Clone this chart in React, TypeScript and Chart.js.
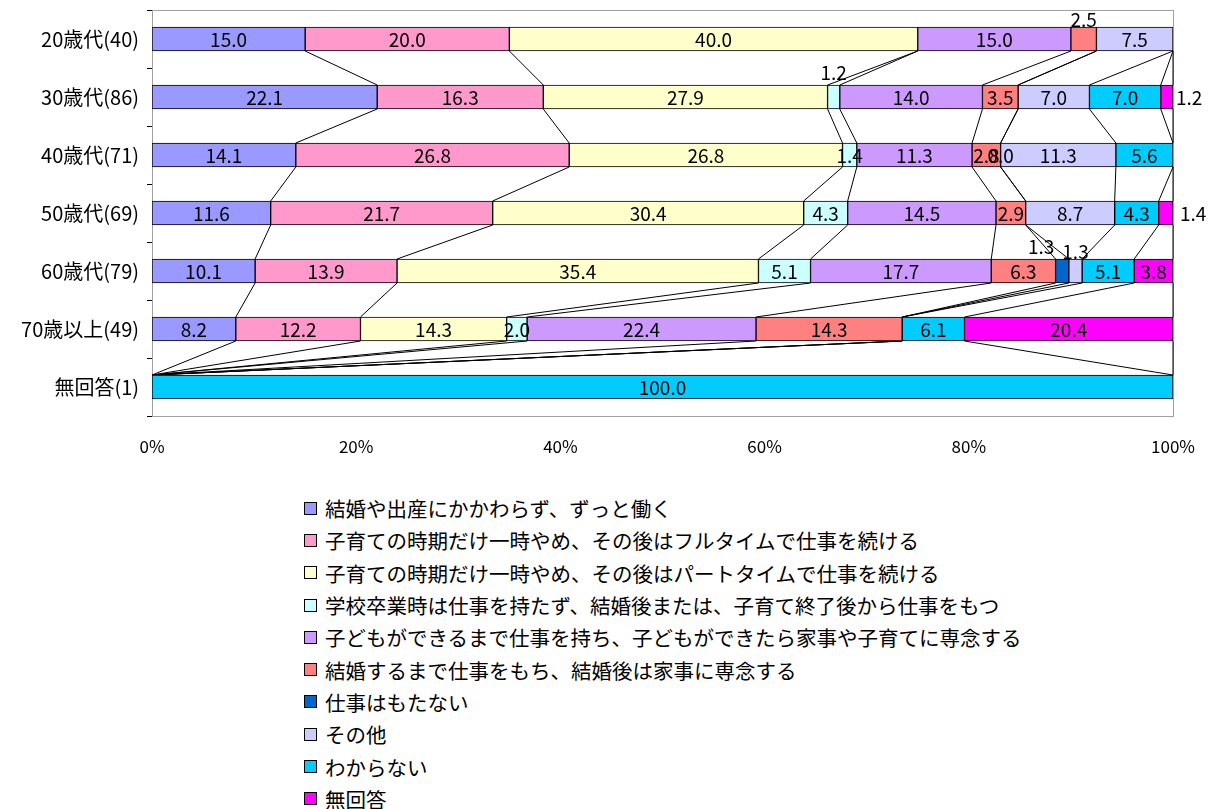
import React, { useEffect, useRef } from "react";
import { Chart, registerables } from "chart.js";

Chart.register(...registerables);

const FONT = "'Noto Sans CJK JP', 'Noto Sans', sans-serif";

const categories = [
  "20歳代(40)",
  "30歳代(86)",
  "40歳代(71)",
  "50歳代(69)",
  "60歳代(79)",
  "70歳以上(49)",
  "無回答(1)",
];

const seriesNames = [
  "結婚や出産にかかわらず、ずっと働く",
  "子育ての時期だけ一時やめ、その後はフルタイムで仕事を続ける",
  "子育ての時期だけ一時やめ、その後はパートタイムで仕事を続ける",
  "学校卒業時は仕事を持たず、結婚後または、子育て終了後から仕事をもつ",
  "子どもができるまで仕事を持ち、子どもができたら家事や子育てに専念する",
  "結婚するまで仕事をもち、結婚後は家事に専念する",
  "仕事はもたない",
  "その他",
  "わからない",
  "無回答",
];

const seriesColors = [
  "#9999FF",
  "#FF99CC",
  "#FFFFCC",
  "#CCFFFF",
  "#CC99FF",
  "#FF8080",
  "#0066CC",
  "#CCCCFF",
  "#00CCFF",
  "#FF00FF",
];

const s1 = [15.0, 22.1, 14.1, 11.6, 10.1, 8.2, null];
const s2 = [20.0, 16.3, 26.8, 21.7, 13.9, 12.2, null];
const s3 = [40.0, 27.9, 26.8, 30.4, 35.4, 14.3, null];
const s4 = [null, 1.2, 1.4, 4.3, 5.1, 2.0, null];
const s5 = [15.0, 14.0, 11.3, 14.5, 17.7, 22.4, null];
const s6 = [2.5, 3.5, 2.8, 2.9, 6.3, 14.3, null];
const s7 = [null, null, 0.0, null, 1.3, null, null];
const s8 = [7.5, 7.0, 11.3, 8.7, 1.3, null, null];
const s9 = [null, 7.0, 5.6, 4.3, 5.1, 6.1, 100.0];
const s10 = [null, 1.2, null, 1.4, 3.8, 20.4, null];

const seriesValues: (number | null)[][] = [s1, s2, s3, s4, s5, s6, s7, s8, s9, s10];

const xTickValues = [0, 20, 40, 60, 80, 100];

// labels drawn outside their bars: series index, row index, placement, offset
const outsideLabels = [
  { series: 5, row: 0, place: "top", dx: 0, dy: -7 },
  { series: 3, row: 1, place: "top", dx: 0, dy: -12 },
  { series: 9, row: 1, place: "right", dx: 3, dy: 0 },
  { series: 9, row: 3, place: "right", dx: 7, dy: 0 },
  { series: 6, row: 4, place: "top", dx: -21, dy: -12 },
  { series: 7, row: 4, place: "top", dx: 0, dy: -7 },
];

const BAR_THICKNESS = 24;

// 100% stacked: normalise each row
const rowSums = categories.map((_, r) =>
  seriesValues.reduce((a, s) => a + (s[r] ?? 0), 0)
);
const normalized = seriesValues.map((s) =>
  s.map((v, r) => (v == null ? null : (v / rowSums[r]) * 100))
);
// cumulative end positions (normalized) per row, per series
const cumulative = categories.map((_, r) => {
  let c = 0;
  return normalized.map((s) => {
    c += s[r] ?? 0;
    return c;
  });
});

const seriesLinesPlugin = {
  id: "seriesLines",
  beforeDatasetsDraw(chart: any) {
    const { ctx, chartArea } = chart;
    ctx.save();
    ctx.strokeStyle = "#A0A0A0";
    ctx.lineWidth = 1;
    ctx.strokeRect(
      Math.round(chartArea.left) + 0.5,
      Math.round(chartArea.top) + 0.5,
      Math.round(chartArea.right - chartArea.left),
      Math.round(chartArea.bottom - chartArea.top)
    );
    const xs = chart.scales.x;
    const ys = chart.scales.y;
    ctx.strokeStyle = "#000";
    ctx.lineWidth = 1;
    for (let r = 0; r < categories.length - 1; r++) {
      const yA = ys.getPixelForValue(r) + BAR_THICKNESS / 2;
      const yB = ys.getPixelForValue(r + 1) - BAR_THICKNESS / 2;
      for (let k = 0; k < seriesValues.length; k++) {
        const xA = xs.getPixelForValue(cumulative[r][k]);
        const xB = xs.getPixelForValue(cumulative[r + 1][k]);
        ctx.beginPath();
        ctx.moveTo(xA, yA);
        ctx.lineTo(xB, yB);
        ctx.stroke();
      }
    }
    ctx.restore();
  },
  afterDatasetsDraw(chart: any) {
    const { ctx } = chart;
    const xs = chart.scales.x;
    const ys = chart.scales.y;
    ctx.save();
    ctx.font = `19px ${FONT}`;
    ctx.fillStyle = "#000";
    ctx.textBaseline = "middle";
    for (let k = 0; k < seriesValues.length; k++) {
      for (let r = 0; r < categories.length; r++) {
        const v = seriesValues[k][r];
        if (v == null) continue;
        const end = cumulative[r][k];
        const start = end - (normalized[k][r] ?? 0);
        const x0 = xs.getPixelForValue(start);
        const x1 = xs.getPixelForValue(end);
        const yc = ys.getPixelForValue(r);
        const text = v.toFixed(1);
        const o = outsideLabels.find((q) => q.series === k && q.row === r);
        if (!o) {
          ctx.textAlign = "center";
          ctx.fillText(text, (x0 + x1) / 2, yc + 1);
        } else if (o.place === "top") {
          ctx.textAlign = "center";
          ctx.fillText(text, (x0 + x1) / 2 + o.dx, yc - BAR_THICKNESS / 2 + o.dy);
        } else {
          ctx.textAlign = "left";
          ctx.fillText(text, x1 + o.dx, yc + 1 + o.dy);
        }
      }
    }
    ctx.restore();
  },
};

export default function App() {
  const canvasRef = useRef<HTMLCanvasElement | null>(null);

  useEffect(() => {
    if (!canvasRef.current) return;
    const chart = new Chart(canvasRef.current, {
      type: "bar",
      data: {
        labels: categories,
        datasets: normalized.map((data, i) => ({
          label: seriesNames[i],
          data,
          backgroundColor: seriesColors[i],
          borderColor: "#000",
          borderWidth: 1,
          borderSkipped: false,
          barThickness: BAR_THICKNESS,
        })),
      },
      options: {
        indexAxis: "y",
        responsive: false,
        animation: false,
        layout: { padding: { left: 0, right: 35, top: 2, bottom: 0 } },
        plugins: {
          legend: { display: false },
          tooltip: { enabled: false },
        },
        scales: {
          x: {
            stacked: true,
            min: 0,
            max: 100,
            afterBuildTicks: (scale: any) => {
              scale.ticks = xTickValues.map((v) => ({ value: v }));
            },
            afterFit: (scale: any) => {
              scale.height = 50;
              scale.paddingLeft = 0;
              scale.paddingRight = 0;
            },
            grid: { display: false },
            border: { display: false },
            ticks: {
              padding: 12,
              color: "#000",
              font: { family: FONT, size: 17 },
              callback: (v: any) => `${v}%`,
              maxRotation: 0,
            },
          },
          y: {
            stacked: true,
            afterFit: (scale: any) => {
              scale.width = 144;
              scale.paddingTop = 0;
              scale.paddingBottom = 0;
            },
            grid: {
              offset: true,
              drawOnChartArea: false,
              color: "#000",
              tickLength: 5,
            },
            border: { display: true, color: "#000", width: 1 },
            ticks: {
              padding: 8,
              color: "#000",
              font: { family: FONT, size: 20 },
            },
          },
        },
      },
      plugins: [seriesLinesPlugin],
    });
    return () => chart.destroy();
  }, []);

  return (
    <div
      style={{
        position: "fixed",
        left: 0,
        top: 0,
        width: 1208,
        height: 809,
        overflow: "hidden",
        background: "#fff",
      }}
    >
      <canvas
        ref={canvasRef}
        width={1200}
        height={458}
        style={{ display: "block", width: 1200, height: 458, marginLeft: 8, marginTop: 8 }}
      />
      <div style={{ marginTop: 26, marginLeft: 304, fontFamily: FONT, fontSize: 20.5, color: "#000" }}>
        {seriesNames.map((name, i) => (
          <div key={name} style={{ height: 32.3, display: "flex", alignItems: "center", whiteSpace: "nowrap" }}>
            <span
              style={{
                display: "inline-block",
                width: 11,
                height: 11,
                border: "1px solid #000",
                background: seriesColors[i],
                marginRight: 8,
                flex: "none",
              }}
            />
            <span>{name}</span>
          </div>
        ))}
      </div>
    </div>
  );
}
